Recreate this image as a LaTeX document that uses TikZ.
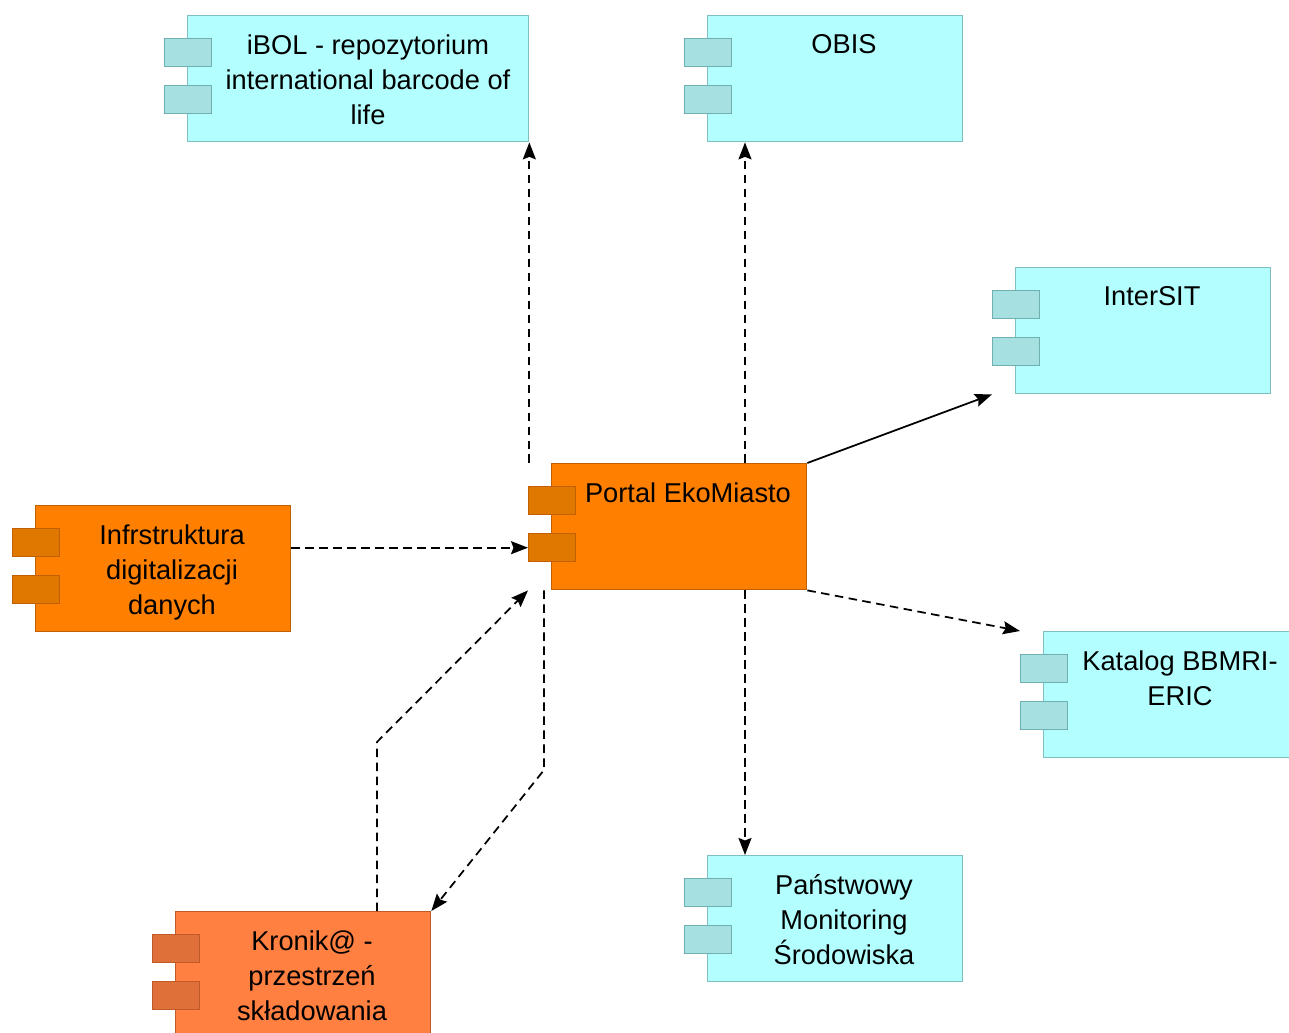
\documentclass[tikz,border=0pt]{standalone}
\usepackage{fontspec}
\setmainfont{Liberation Sans}
\usetikzlibrary{arrows.meta,calc}

\definecolor{cyanfill}{HTML}{B3FFFF}
\definecolor{cyanline}{HTML}{7FBFBF}
\definecolor{cyanport}{HTML}{A6E0E0}
\definecolor{cyanportline}{HTML}{6FB0B0}
\definecolor{orfill}{HTML}{FF8000}
\definecolor{orline}{HTML}{C06000}
\definecolor{orport}{HTML}{E07800}
\definecolor{krfill}{HTML}{FF8040}
\definecolor{krport}{HTML}{E0703A}
\definecolor{krline}{HTML}{C05A28}

\begin{document}
\begin{tikzpicture}[x=0.02cm,y=-0.02cm,>={Stealth[length=0.34cm,width=0.26cm,inset=0.05cm]},
  comp/.style={draw=cyanline,fill=cyanfill,line width=0.8pt,anchor=north west,
    minimum width=5.1cm,minimum height=2.52cm,inner sep=0},
  port/.style={draw=cyanportline,fill=cyanport,line width=0.8pt,anchor=north west,
    minimum width=0.94cm,minimum height=0.56cm,inner sep=0},
  orcomp/.style={comp,draw=orline,fill=orfill},
  orport/.style={port,draw=orline,fill=orport},
  krcomp/.style={comp,draw=krline,fill=krfill},
  krport/.style={port,draw=krline,fill=krport},
  ctext/.style={anchor=north,align=center,inner sep=0,font=\fontsize{15.5}{19.9}\selectfont},
  dep/.style={->,dash pattern=on 0.17cm off 0.11cm,line width=1pt},
  use/.style={->,line width=1pt}]

  \clip (0,0) rectangle (1289,1033);

  % components
  \node[comp,minimum width=6.82cm] (ibol) at (187,15) {};
  \node[port] (ibol-p1) at ($(ibol.north west)+(-23,23)$) {};
  \node[port] (ibol-p2) at ($(ibol.north west)+(-23,70)$) {};
  \node[ctext] (ibol-t) at ($(ibol.north west)+(181,19)$) {iBOL - repozytorium\\international barcode of\\life};

  \node[comp] (obis) at (707,15) {};
  \node[port] (obis-p1) at ($(obis.north west)+(-23,23)$) {};
  \node[port] (obis-p2) at ($(obis.north west)+(-23,70)$) {};
  \node[ctext] (obis-t) at ($(obis.north west)+(137,19)$) {OBIS};

  \node[comp] (intersit) at (1015,267) {};
  \node[port] (isit-p1) at ($(intersit.north west)+(-23,23)$) {};
  \node[port] (isit-p2) at ($(intersit.north west)+(-23,70)$) {};
  \node[ctext] (isit-t) at ($(intersit.north west)+(137,19)$) {InterSIT};

  \node[orcomp] (portal) at (551,463) {};
  \node[orport] (portal-p1) at ($(portal.north west)+(-23,23)$) {};
  \node[orport] (portal-p2) at ($(portal.north west)+(-23,70)$) {};
  \node[ctext] (portal-t) at ($(portal.north west)+(137,19)$) {Portal EkoMiasto};

  \node[orcomp] (infra) at (35,505) {};
  \node[orport] (infra-p1) at ($(infra.north west)+(-23,23)$) {};
  \node[orport] (infra-p2) at ($(infra.north west)+(-23,70)$) {};
  \node[ctext] (infra-t) at ($(infra.north west)+(137,19)$) {Infrstruktura\\digitalizacji\\danych};

  \node[comp] (katalog) at (1043,631) {};
  \node[port] (kat-p1) at ($(katalog.north west)+(-23,23)$) {};
  \node[port] (kat-p2) at ($(katalog.north west)+(-23,70)$) {};
  \node[ctext] (kat-t) at ($(katalog.north west)+(137,19)$) {Katalog BBMRI-\\ERIC};

  \node[comp] (pms) at (707,855) {};
  \node[port] (pms-p1) at ($(pms.north west)+(-23,23)$) {};
  \node[port] (pms-p2) at ($(pms.north west)+(-23,70)$) {};
  \node[ctext] (pms-t) at ($(pms.north west)+(137,19)$) {Państwowy\\Monitoring\\Środowiska};

  \node[krcomp] (kronik) at (175,911) {};
  \node[krport] (kronik-p1) at ($(kronik.north west)+(-23,23)$) {};
  \node[krport] (kronik-p2) at ($(kronik.north west)+(-23,70)$) {};
  \node[ctext] (kronik-t) at ($(kronik.north west)+(137,19)$) {Kronik@ -\\przestrzeń\\składowania};

  % helper points
  \coordinate (obis-in) at ($(obis.south west)+(38,0)$);
  \coordinate (pms-in) at ($(pms.north west)+(38,0)$);
  \coordinate (kr-bend) at (377,742);
  \coordinate (pt-bend) at (544,770);

  % connectors
  \draw[dep] (ibol.south east |- portal.north) -- (ibol.south east);
  \draw[dep] (obis-in |- portal.north) -- (obis-in);
  \draw[use] (portal.north east) -- (isit-p2.west |- intersit.south);
  \draw[dep] (infra.east |- portal-p2.west) -- (portal-p2.west);
  \draw[dep] (portal.south east) -- (kat-p1.west |- katalog.north);
  \draw[dep] (pms-in |- portal.south) -- (pms-in);
  \draw[dep] (kr-bend |- kronik.north) -- (kr-bend) -- (portal-p1.west |- portal.south);
  \draw[dep] (pt-bend |- portal.south) -- (pt-bend) -- (kronik.north east);
\end{tikzpicture}
\end{document}
